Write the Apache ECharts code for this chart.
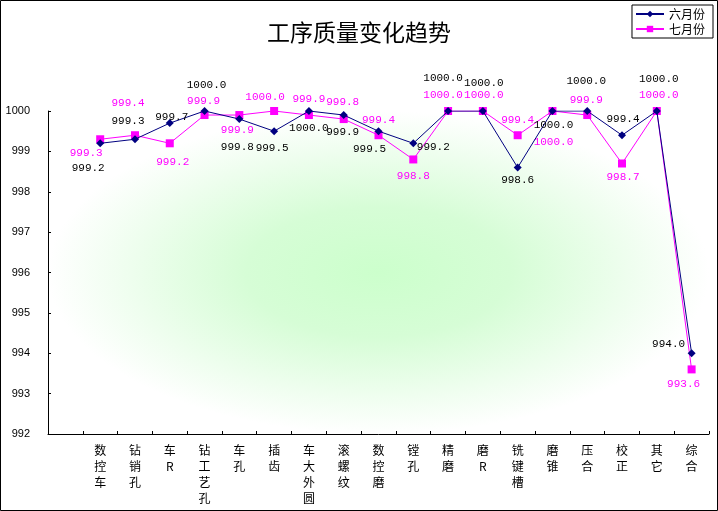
<!DOCTYPE html>
<html lang="zh">

<head>
  <meta charset="UTF-8">
  <title>工序质量变化趋势</title>
  <script src="https://cdn.jsdelivr.net/npm/echarts@6/dist/echarts.min.js"></script>
  <style>
    body { margin: 0; background: #fff; }
  </style>
</head>

<body>
  <div id="chart" style="width: 718px; height: 511px;"></div>

  <script>
    // 工序名称（第一个位置在原图中是空的）
    var categories = ['', '数控车', '钻销孔', '车R', '钻工艺孔', '车孔', '插齿', '车大外圆', '滚螺纹', '数控磨',
      '镗孔', '精磨', '磨R', '铣键槽', '磨锥', '压合', '校正', '其它', '综合'];

    // 六月份 / 七月份 数据
    var juneData = [null, 999.2, 999.3, 999.7, 1000.0, 999.8, 999.5, 1000.0, 999.9, 999.5,
      999.2, 1000.0, 1000.0, 998.6, 1000.0, 1000.0, 999.4, 1000.0, 994.0];
    var julyData = [null, 999.3, 999.4, 999.2, 999.9, 999.9, 1000.0, 999.9, 999.8, 999.4,
      998.8, 1000.0, 1000.0, 999.4, 1000.0, 999.9, 998.7, 1000.0, 993.6];

    var yTicks = [992, 993, 994, 995, 996, 997, 998, 999, 1000];

    // 数据标签相对于点的偏移（仿照原图里 Excel 的摆放）
    var juneLabelOffset = [null, [-12, 25], [-7, -18], [2, -6], [2, -26], [-2, 28], [-2, 17], [0, 17], [-1, 17], [-9, 18],
      [20, 4], [-5, -33], [1, -28], [0, 13], [1, 14], [-1, -30], [1, -16], [2, -32], [-23, -9]];
    var julyLabelOffset = [null, [-14, 14], [-7, -32], [3, 19], [-1, -14], [-2, 15], [-9, -14], [0, -16], [-1, -17], [0, -15],
      [0, 17], [-5, -16], [1, -16], [0, -15], [1, 31], [-1, -15], [1, 14], [2, -16], [-8, 15]];

    function withLabels(values, offsets, color) {
      return values.map(function (v, i) {
        if (v === null) return null;
        return {
          value: v,
          label: { show: true, position: 'inside', offset: offsets[i], color: color }
        };
      });
    }

    var labelFont = { fontFamily: 'Liberation Mono', fontSize: 11 };

    // 绘图区尺寸，用来铺背景渐变
    var W = 718, H = 511;
    var grid = { left: 48, right: 9, top: 111, bottom: 77 };
    var plotW = W - grid.left - grid.right;
    var plotH = H - grid.top - grid.bottom;

    var myChart = echarts.init(document.getElementById('chart'));

    myChart.setOption({
      animation: false,
      backgroundColor: '#fff',
      textStyle: { fontFamily: 'Noto Sans CJK SC' },
      title: {
        text: '工序质量变化趋势',
        left: 'center',
        top: 16,
        textStyle: { fontSize: 23, fontWeight: 'normal', color: '#000', fontFamily: 'Noto Sans CJK SC' }
      },
      legend: {
        orient: 'vertical',
        right: 5,
        top: 5,
        padding: [3, 8, 3, 3],
        itemGap: 3,
        itemWidth: 28,
        itemHeight: 8,
        borderColor: '#000',
        borderWidth: 1,
        backgroundColor: '#fff',
        textStyle: { fontSize: 12, color: '#000' },
        data: ['六月份', '七月份']
      },
      graphic: [{
        // 椭圆形的浅绿渐变：正方形矩形 + 横向拉伸
        type: 'rect',
        x: grid.left,
        y: grid.top,
        scaleX: plotW / plotH,
        shape: { x: 0, y: 0, width: plotH, height: plotH },
        style: {
          fill: {
            type: 'radial', x: 0.5, y: 0.5, r: 0.5,
            colorStops: [
              { offset: 0, color: '#ccffcc' },
              { offset: 0.4, color: '#d6fdd6' },
              { offset: 0.75, color: '#eefeee' },
              { offset: 1, color: '#ffffff' }
            ]
          }
        },
        silent: true,
        z: -1
      }, {
        type: 'rect',
        shape: { x: 0.5, y: 0.5, width: 717, height: 510 },
        style: { fill: 'none', stroke: '#000', lineWidth: 1 },
        silent: true,
        z: 100
      }],
      grid: {
        left: grid.left,
        right: grid.right,
        top: grid.top,
        bottom: grid.bottom
      },
      xAxis: {
        type: 'category',
        data: categories,
        axisLine: { lineStyle: { color: '#000', width: 1 } },
        axisTick: { show: true, inside: true, length: 3, lineStyle: { color: '#000' } },
        axisLabel: {
          interval: 0,
          margin: 8,
          color: '#000',
          fontSize: 12,
          lineHeight: 16,
          formatter: function (v) { return v.split('').join('\n'); }
        },
        splitLine: { show: false }
      },
      yAxis: {
        type: 'value',
        min: yTicks[0],
        max: yTicks[yTicks.length - 1],
        interval: 1,
        axisLine: { show: true, lineStyle: { color: '#000', width: 1 } },
        axisTick: { show: true, inside: true, length: 3, lineStyle: { color: '#000' } },
        axisLabel: {
          color: '#000', fontSize: 11, margin: 18, fontFamily: 'Liberation Sans',
          formatter: function (v) { return String(v); }
        },
        splitLine: { show: false }
      },
      series: [{
        name: '六月份',
        type: 'line',
        data: withLabels(juneData, juneLabelOffset, '#000'),
        color: '#000080',
        symbol: 'diamond',
        symbolSize: 8,
        lineStyle: { width: 1, color: '#000080' },
        itemStyle: { color: '#000080' },
        label: Object.assign({ formatter: function (p) { return p.value.toFixed(1); } }, labelFont),
        z: 3
      }, {
        name: '七月份',
        type: 'line',
        data: withLabels(julyData, julyLabelOffset, '#ff00ff'),
        color: '#ff00ff',
        symbol: 'rect',
        symbolSize: 8,
        lineStyle: { width: 1, color: '#ff00ff' },
        itemStyle: { color: '#ff00ff' },
        label: Object.assign({ formatter: function (p) { return p.value.toFixed(1); } }, labelFont),
        z: 2
      }]
    });
  </script>
</body>

</html>
